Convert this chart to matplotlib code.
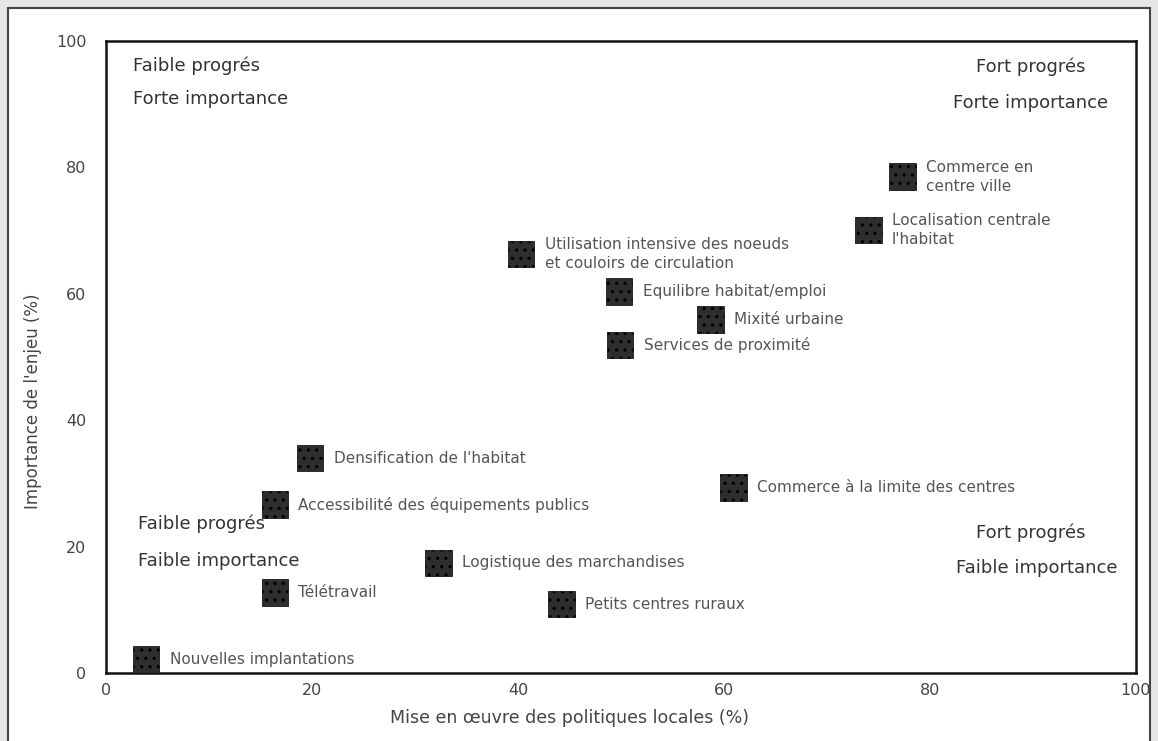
import matplotlib.pyplot as plt
from matplotlib.patches import Rectangle

# policy items: (mise en oeuvre %, importance %)
labels = [
    "Commerce en\ncentre ville",
    "Localisation centrale\nl'habitat",
    "Utilisation intensive des noeuds\net couloirs de circulation",
    "Equilibre habitat/emploi",
    "Mixité urbaine",
    "Services de proximité",
    "Densification de l'habitat",
    "Accessibilité des équipements publics",
    "Commerce à la limite des centres",
    "Logistique des marchandises",
    "Télétravail",
    "Petits centres ruraux",
    "Nouvelles implantations",
]
mise_en_oeuvre = [77.3, 74.0, 40.3, 49.8, 58.7, 49.9, 19.8, 16.4, 60.9, 32.3, 16.4, 44.2, 3.9]
importance = [78.5, 70.1, 66.3, 60.4, 55.9, 51.9, 34.0, 26.6, 29.3, 17.4, 12.7, 10.9, 2.1]

ticks = [0, 20, 40, 60, 80, 100]

plt.rcParams['font.family'] = ['DejaVu Sans']
plt.rcParams['hatch.linewidth'] = 1.2

fig = plt.figure(figsize=(11.58, 7.41), dpi=100, facecolor='#e6e6e6')
# white panel behind the chart
panel = Rectangle((0.0069, -0.02), 0.986, 1.009, transform=fig.transFigure,
                  facecolor='white', edgecolor='#444444', linewidth=1.5, zorder=-5)
fig.add_artist(panel)

ax = fig.add_axes([0.0915, 0.0918, 0.8895, 0.853])
ax.set_facecolor('white')
ax.set_xlim(0, 100)
ax.set_ylim(0, 100)
ax.set_xticks(ticks)
ax.set_yticks(ticks)
ax.tick_params(length=0, labelsize=11.5, labelcolor='#444444')
ax.tick_params(axis='y', pad=14)
ax.tick_params(axis='x', pad=7)
for s in ax.spines.values():
    s.set_linewidth(1.8)
    s.set_color('#111111')

ax.scatter(mise_en_oeuvre, importance, s=370, marker='s', facecolor='#2e2e2e',
           edgecolor='#000000', hatch='..', linewidth=0.5, zorder=3)

for lab, x, y in zip(labels, mise_en_oeuvre, importance):
    ax.annotate(lab, (x, y), xytext=(17, 0), textcoords='offset points',
                va='center', ha='left', fontsize=11, color='#555555', linespacing=1.3)

# quadrant captions
q = dict(fontsize=13, color='#333333', va='center')
ax.text(2.6, 96.0, "Faible progrés", ha='left', **q)
ax.text(2.6, 90.8, "Forte importance", ha='left', **q)
ax.text(89.8, 95.9, "Fort progrés", ha='center', **q)
ax.text(89.8, 90.2, "Forte importance", ha='center', **q)
ax.text(3.1, 23.6, "Faible progrés", ha='left', **q)
ax.text(3.1, 17.7, "Faible importance", ha='left', **q)
ax.text(89.8, 22.2, "Fort progrés", ha='center', **q)
ax.text(90.4, 16.6, "Faible importance", ha='center', **q)

ax.set_xlabel("Mise en œuvre des politiques locales (%)", fontsize=12.5, color='#444444', labelpad=8)
ax.set_ylabel("Importance de l'enjeu (%)", fontsize=12, color='#444444', labelpad=10)
ax.xaxis.label.set_x(0.45)
ax.yaxis.label.set_y(0.43)

fig.savefig('out.png', dpi=100, facecolor=fig.get_facecolor())
